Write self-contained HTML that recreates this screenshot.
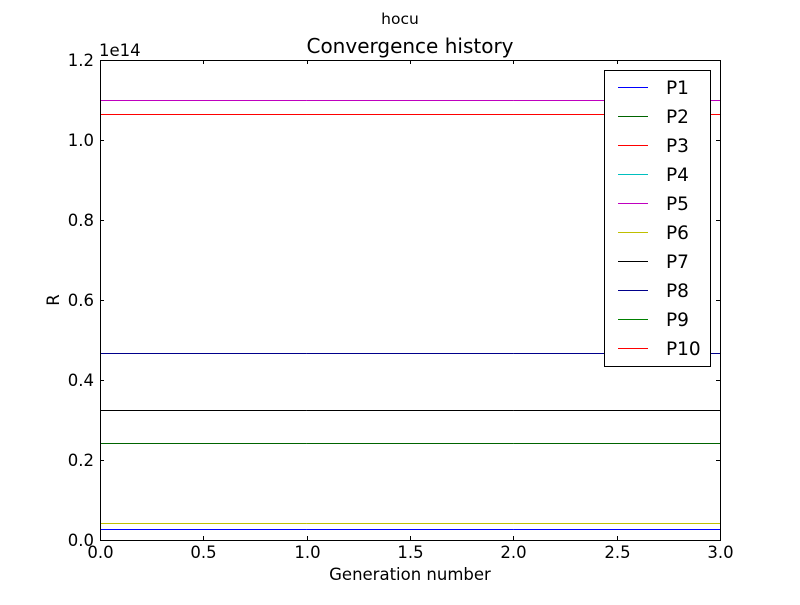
<!DOCTYPE html>
<html><head><meta charset="utf-8"><style>
body{margin:0;background:#fff;font-family:"Liberation Sans","DejaVu Sans",sans-serif}
svg text{font-family:"DejaVu Sans","Liberation Sans",sans-serif}
</style></head><body>
<svg id="c" width="800" height="600" xmlns="http://www.w3.org/2000/svg"></svg>
<script>
const generations = [0, 1, 2, 3];
const seriesNames = ["P1","P2","P3","P4","P5","P6","P7","P8","P9","P10"];
const seriesColors = ["#0000ff","#006400","#ff0000","#00bfbf","#bf00bf","#bfbf00","#000000","#00008b","#008000","#ff0000"];
const p1 = [0.0275,0.0275,0.0275,0.0275];
const p2 = [0.2425,0.2425,0.2425,0.2425];
const p3 = [1.065,1.065,1.065,1.065];
const p4 = [0,0,0,0];
const p5 = [1.1,1.1,1.1,1.1];
const p6 = [0.0425,0.0425,0.0425,0.0425];
const p7 = [0.325,0.325,0.325,0.325];
const p8 = [0.4675,0.4675,0.4675,0.4675];
const p9 = [0,0,0,0];
const p10 = [1.065,1.065,1.065,1.065];
const seriesValues = [p1,p2,p3,p4,p5,p6,p7,p8,p9,p10];
const xTicks = [0,0.5,1,1.5,2,2.5,3];
const xTickLabels = ["0.0","0.5","1.0","1.5","2.0","2.5","3.0"];
const yTicks = [0,0.2,0.4,0.6,0.8,1.0,1.2];
const yTickLabels = ["0.0","0.2","0.4","0.6","0.8","1.0","1.2"];

const L=100,R=720,T=60,B=540;
const xs=v=>L+(v-0)/(3-0)*(R-L);
const ys=v=>B-(v-0)/(1.2-0)*(B-T);
const svg=document.getElementById('c');
const NS="http://www.w3.org/2000/svg";
function mk(tag,attrs,parent){const e=document.createElementNS(NS,tag);for(const k in attrs)e.setAttribute(k,attrs[k]);(parent||svg).appendChild(e);return e;}
function txt(s,attrs){const e=mk('text',attrs);e.textContent=s;return e;}

let t;
t=txt("hocu",{x:400,y:24,"font-size":15.5,"text-anchor":"middle"});


t=txt("Convergence history",{x:410,y:53,"font-size":20,"text-anchor":"middle"});



const lg=mk('g',{});


seriesValues.forEach((vals,i)=>{
  const g=mk('g',{},lg);
  
  
  for(let j=0;j<vals.length-1;j++){
    const x1=xs(generations[j]),x2=xs(generations[j+1]);
    const y1=Math.round(ys(vals[j])),y2=Math.round(ys(vals[j+1]));
    if(y1===y2){
      mk('rect',{x:x1,y:y1,width:x2-x1,height:1,fill:seriesColors[i]},g);
    } else {
      mk('line',{x1:x1,y1:y1+0.5,x2:x2,y2:y2+0.5,stroke:seriesColors[i]},g);
    }
  }
});

const fr=mk('g',{});


mk('rect',{x:L,y:T,width:R-L+1,height:1,fill:"#000"},fr);
mk('rect',{x:L,y:B,width:R-L+1,height:1,fill:"#000"},fr);
mk('rect',{x:L,y:T,width:1,height:B-T+1,fill:"#000"},fr);
mk('rect',{x:R,y:T,width:1,height:B-T+1,fill:"#000"},fr);

const xa=mk('g',{});


xTicks.forEach((v,i)=>{
  const x=Math.round(xs(v));
  mk('rect',{x:x,y:B-4,width:1,height:4,fill:"#000"},xa);
  mk('rect',{x:x,y:T,width:1,height:4,fill:"#000"},xa);
  const e=mk('text',{x:x+0.5,y:B+18,"font-size":16.5,"text-anchor":"middle"},xa);e.textContent=xTickLabels[i];
});
const ya=mk('g',{});


yTicks.forEach((v,i)=>{
  const y=Math.round(ys(v));
  mk('rect',{x:L,y:y,width:4,height:1,fill:"#000"},ya);
  mk('rect',{x:R-4,y:y,width:4,height:1,fill:"#000"},ya);
  const e=mk('text',{x:L-6,y:y+6,"font-size":16.5,"text-anchor":"end"},ya);e.textContent=yTickLabels[i];
});
t=txt("1e14",{x:99,y:56,"font-size":16.5});


t=txt("Generation number",{x:410,y:580,"font-size":16.5,"text-anchor":"middle"});


t=txt("R",{x:0,y:0,"font-size":16.5,"text-anchor":"middle",transform:"translate(59,300) rotate(-90)"});



const leg=mk('g',{});


mk('rect',{x:604,y:70,width:107,height:297,fill:"#000"},leg);
mk('rect',{x:605,y:71,width:105,height:295,fill:"#fff"},leg);
seriesNames.forEach((n,i)=>{
  const y=87+i*29;
  const g=mk('g',{},leg);
  
  
  mk('rect',{x:618,y:y,width:30,height:1,fill:seriesColors[i]},g);
  const e=mk('text',{x:666,y:y+7,"font-size":18.5},g);e.textContent=n;
});
</script>
</body></html>
